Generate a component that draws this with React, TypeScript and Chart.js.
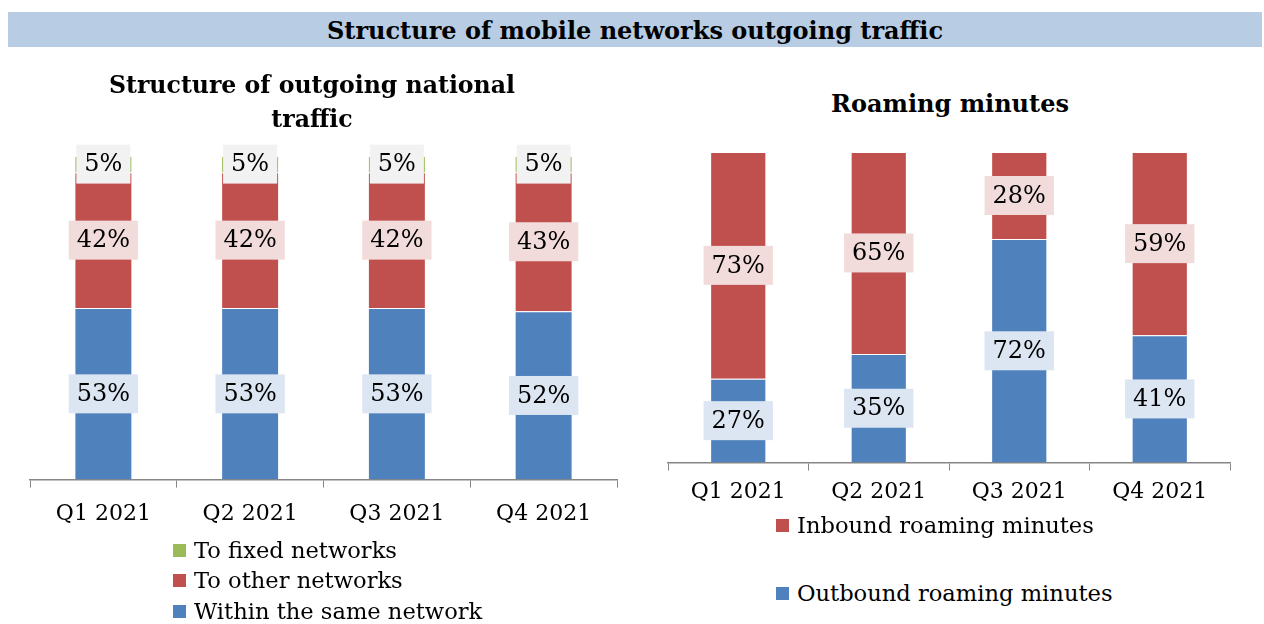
import React, { useEffect, useRef } from "react";
import { Chart, registerables } from "chart.js";
Chart.register(...registerables);

const quarters = ["Q1 2021", "Q2 2021", "Q3 2021", "Q4 2021"];
const withinSameNetwork = [53, 53, 53, 52];
const toOtherNetworks = [42, 42, 42, 43];
const toFixedNetworks = [5, 5, 5, 5];
const outboundRoaming = [27, 35, 72, 41];
const inboundRoaming = [73, 65, 28, 59];

const FONT = "'DejaVu Serif', serif";
const BLUE = "#4f81bd";
const RED = "#c0504d";
const GREEN = "#9bbb59";

const segLabels = {
  id: "segLabels",
  afterDatasetsDraw(chart: any, _args: any, opts: any) {
    const ctx = chart.ctx;
    ctx.save();
    ctx.font = `${opts.size || 23}px ${FONT}`;
    ctx.textAlign = "center";
    ctx.textBaseline = "middle";
    chart.data.datasets.forEach((ds: any, i: number) => {
      const meta = chart.getDatasetMeta(i);
      meta.data.forEach((bar: any, j: number) => {
        const p = bar.getProps(["x", "y", "base"], true);
        const cy = (p.y + p.base) / 2;
        const text = ds.data[j] + "%";
        const w = ctx.measureText(text).width;
        const padX = 8;
        const h = 39;
        ctx.fillStyle = opts.bgs[i];
        ctx.fillRect(p.x - w / 2 - padX, cy - h / 2, w + padX * 2, h);
        ctx.fillStyle = "#000";
        ctx.fillText(text, p.x, cy + 1);
      });
    });
    ctx.restore();
  },
};

function makeOptions(padding: any, barPct: number, bgs: string[], tickPad: number) {
  return {
    responsive: false,
    animation: false as const,
    maintainAspectRatio: false,
    layout: { padding },
    plugins: {
      legend: { display: false },
      title: { display: false },
      tooltip: { enabled: false },
      segLabels: { bgs, size: 24 },
    },
    scales: {
      x: {
        stacked: true,
        grid: {
          display: true,
          drawOnChartArea: false,
          drawTicks: true,
          tickLength: 8,
          color: "#868686",
          offset: true,
        },
        border: { display: true, color: "#868686", width: 1.5 },
        ticks: {
          color: "#000",
          padding: tickPad,
          font: { family: FONT, size: 22 },
        },
      },
      y: {
        stacked: true,
        display: false,
        min: 0,
        max: 100,
      },
    },
    datasets: { bar: { categoryPercentage: 1, barPercentage: barPct } },
  };
}

function BarChart(props: {
  style: React.CSSProperties;
  width: number;
  height: number;
  datasets: any[];
  padding: any;
  barPct: number;
  bgs: string[];
  tickPad: number;
}) {
  const ref = useRef<HTMLCanvasElement>(null);
  useEffect(() => {
    const chart = new Chart(ref.current as HTMLCanvasElement, {
      type: "bar",
      data: { labels: quarters, datasets: props.datasets },
      options: makeOptions(props.padding, props.barPct, props.bgs, props.tickPad) as any,
      plugins: [segLabels as any],
    });
    return () => chart.destroy();
  }, []);
  return (
    <canvas
      ref={ref}
      width={props.width}
      height={props.height}
      style={{ position: "absolute", ...props.style, width: props.width, height: props.height }}
    />
  );
}

function LegendItem(props: { color: string; label: string; x: number; y: number }) {
  return (
    <div
      style={{
        position: "absolute",
        left: props.x,
        top: props.y - 15,
        height: 30,
        display: "flex",
        alignItems: "center",
        fontFamily: FONT,
        fontSize: 22.6,
        color: "#000",
        whiteSpace: "nowrap",
      }}
    >
      <span style={{ display: "inline-block", width: 13, height: 13, background: props.color, marginRight: 8 }} />
      {props.label}
    </div>
  );
}

export default function App() {
  const border = { borderColor: "rgba(255,255,255,0.5)", borderWidth: 1 };
  const leftDatasets = [
    { label: "Within the same network", data: withinSameNetwork, backgroundColor: BLUE, ...border },
    { label: "To other networks", data: toOtherNetworks, backgroundColor: RED, ...border },
    { label: "To fixed networks", data: toFixedNetworks, backgroundColor: GREEN, ...border },
  ];
  const rightDatasets = [
    { label: "Outbound roaming minutes", data: outboundRoaming, backgroundColor: BLUE, ...border },
    { label: "Inbound roaming minutes", data: inboundRoaming, backgroundColor: RED, ...border },
  ];
  return (
    <div style={{ position: "absolute", left: 0, top: 0, width: 1264, height: 624, background: "#fff", overflow: "hidden" }}>
      <div
        style={{
          position: "absolute",
          left: 8,
          top: 12,
          width: 1254,
          height: 35,
          background: "#b8cce4",
          fontFamily: FONT,
          fontWeight: "bold",
          fontSize: 24,
          lineHeight: "37px",
          textAlign: "center",
          color: "#000",
        }}
      >
        Structure of mobile networks outgoing traffic
      </div>
      <BarChart
        style={{ left: 0, top: 130 }}
        width={650}
        height={414}
        datasets={leftDatasets}
        padding={{ left: 30, right: 33, top: 26, bottom: 4 }}
        barPct={0.395}
        bgs={["#dce6f2", "#f2dcdb", "#f2f2f2"]}
        tickPad={13}
      />
      <BarChart
        style={{ left: 650, top: 130 }}
        width={614}
        height={387}
        datasets={rightDatasets}
        padding={{ left: 18, right: 34, top: 22, bottom: 4 }}
        barPct={0.4}
        bgs={["#dce6f2", "#f2dcdb"]}
        tickPad={8}
      />
      <div
        style={{
          position: "absolute",
          left: 62,
          top: 68,
          width: 500,
          textAlign: "center",
          fontFamily: FONT,
          fontWeight: "bold",
          fontSize: 23.6,
          lineHeight: "34px",
          color: "#000",
        }}
      >
        Structure of outgoing national
        <br />
        traffic
      </div>
      <div
        style={{
          position: "absolute",
          left: 750,
          top: 87,
          width: 400,
          textAlign: "center",
          fontFamily: FONT,
          fontWeight: "bold",
          fontSize: 24,
          lineHeight: "34px",
          color: "#000",
        }}
      >
        Roaming minutes
      </div>
      <LegendItem color={GREEN} label="To fixed networks" x={173} y={550} />
      <LegendItem color={RED} label="To other networks" x={173} y={580} />
      <LegendItem color={BLUE} label="Within the same network" x={173} y={611} />
      <LegendItem color={RED} label="Inbound roaming minutes" x={776} y={525} />
      <LegendItem color={BLUE} label="Outbound roaming minutes" x={776} y={593} />
    </div>
  );
}
